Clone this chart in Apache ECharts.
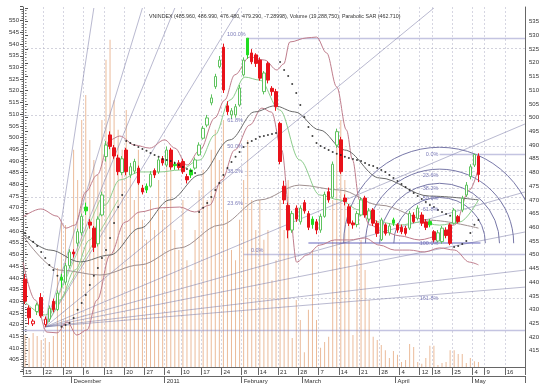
<!DOCTYPE html>
<html><head><meta charset="utf-8">
<script src="https://cdn.jsdelivr.net/npm/echarts@6/dist/echarts.min.js"></script>
<style>html,body{margin:0;padding:0;background:#fff}#c{width:557px;height:389px}</style>
</head><body><div id="c"></div>
<script>
const titleText = 'VNINDEX (485.960, 486.990, 476.480, 479.290, -7.28998), Volume (19,288,750), Parabolic SAR (462.710)';
const dates = [
'2010-11-15','2010-11-16','2010-11-17','2010-11-18','2010-11-19',
'2010-11-22','2010-11-23','2010-11-24','2010-11-25','2010-11-26',
'2010-11-29','2010-11-30','2010-12-01','2010-12-02','2010-12-03',
'2010-12-06','2010-12-07','2010-12-08','2010-12-09','2010-12-10',
'2010-12-13','2010-12-14','2010-12-15','2010-12-16','2010-12-17',
'2010-12-20','2010-12-21','2010-12-22','2010-12-23','2010-12-24',
'2010-12-27','2010-12-28','2010-12-29','2010-12-30','2010-12-31',
'2011-01-04','2011-01-05','2011-01-06','2011-01-07',
'2011-01-10','2011-01-11','2011-01-12','2011-01-13','2011-01-14',
'2011-01-17','2011-01-18','2011-01-19','2011-01-20','2011-01-21',
'2011-01-24','2011-01-25','2011-01-26','2011-01-27','2011-01-28',
'2011-02-08','2011-02-09','2011-02-10','2011-02-11',
'2011-02-14','2011-02-15','2011-02-16','2011-02-17','2011-02-18',
'2011-02-21','2011-02-22','2011-02-23','2011-02-24','2011-02-25',
'2011-02-28','2011-03-01','2011-03-02','2011-03-03','2011-03-04',
'2011-03-07','2011-03-08','2011-03-09','2011-03-10','2011-03-11',
'2011-03-14','2011-03-15','2011-03-16','2011-03-17','2011-03-18',
'2011-03-21','2011-03-22','2011-03-23','2011-03-24','2011-03-25',
'2011-03-28','2011-03-29','2011-03-30','2011-03-31','2011-04-01',
'2011-04-04','2011-04-05','2011-04-06','2011-04-07','2011-04-08',
'2011-04-12','2011-04-13','2011-04-14',
'2011-04-18','2011-04-19','2011-04-20','2011-04-21','2011-04-22',
'2011-04-25','2011-04-26','2011-04-27','2011-04-28','2011-04-29',
'2011-05-04','2011-05-05','2011-05-06',
'2011-05-09','2011-05-10','2011-05-11','2011-05-12','2011-05-13',
'2011-05-16','2011-05-17','2011-05-18','2011-05-19','2011-05-20'];
const weekStarts = [0,5,10,15,20,25,30,35,39,44,49,54,58,63,68,73,78,83,88,93,98,101,106,111,114,119];
const monthStarts = [12,35,54,69,92,111];
const monthLabels = ['December','2011','February','March','April','May'];

const opens = [441.1,430.6,424.8,429.3,434.4,424.5,426.5,433.0,430.0,441.8,
440.0,446.0,451.0,454.2,458.0,467.4,461.9,459.7,454.0,464.5,
485.8,493.7,489.0,485.3,480.0,488.2,479.1,480.5,481.6,474.3,
475.0,475.0,480.7,480.2,485.0,482.7,488.2,483.0,483.5,484.0,
478.5,480.9,481.6,486.4,492.5,497.3,505.4,511.3,518.6,525.7,
504.3,501.0,501.0,504.6,515.6,529.0,523.6,522.9,521.0,509.5,
519.8,510.7,509.5,497.9,475.0,468.0,459.0,467.0,462.0,469.0,
465.0,463.0,462.0,459.0,464.0,473.0,471.0,490.0,491.9,470.7,
467.5,461.6,461.0,464.5,470.7,463.0,466.3,461.5,455.5,460.9,
458.0,462.7,460.9,460.0,459.7,459.7,464.5,463.3,464.5,462.0,
462.1,458.4,455.0,454.8,459.0,460.9,461.5,463.9,466.3,471.8,
478.5,482.7,485.96];
const closes = [433.1,427.0,425.8,431.7,427.7,426.5,430.5,430.0,436.0,440.7,
446.0,451.0,450.3,458.4,464.0,466.0,460.8,452.7,463.0,471.8,
490.0,489.5,486.0,480.3,485.0,480.3,482.1,484.0,476.2,472.9,
473.6,479.4,479.1,484.6,483.5,488.2,482.0,482.5,481.8,480.3,
477.3,479.1,484.6,490.0,496.1,499.9,507.2,515.0,521.0,510.1,
502.2,502.5,504.0,510.8,521.0,522.9,520.4,519.8,514.4,516.3,
513.7,509.5,504.0,484.0,470.0,459.0,465.0,463.0,467.0,466.0,
460.0,461.0,459.0,464.0,472.0,470.0,483.0,494.9,480.3,469.4,
461.5,460.9,465.0,470.0,464.5,466.0,461.5,457.8,462.7,457.8,
460.5,461.5,459.0,458.4,457.8,465.1,462.1,467.0,461.5,460.0,
460.9,455.4,458.0,459.7,457.0,454.2,466.3,462.1,470.6,475.4,
482.1,486.58,479.29];
const highs = [443.0,431.5,426.5,432.5,436.0,427.5,431.5,434.0,437.0,443.0,
447.0,452.0,452.0,459.5,465.0,469.0,463.0,460.5,464.0,473.0,
491.5,495.0,490.0,486.5,486.0,489.0,483.5,485.0,482.5,475.5,
476.0,480.5,481.5,485.5,486.0,489.5,489.0,484.0,484.5,485.0,
479.5,481.5,485.5,491.0,497.0,501.0,508.5,516.0,522.5,527.0,
506.0,503.5,505.0,512.0,522.0,529.0,525.0,523.5,522.0,517.0,
520.5,511.5,510.5,498.5,477.0,469.0,466.0,468.0,468.0,470.0,
466.0,464.0,463.0,465.0,473.0,474.5,484.0,496.0,493.0,472.0,
468.5,462.5,466.0,471.0,471.5,467.0,467.0,462.5,463.5,461.5,
461.5,463.5,461.5,461.0,460.5,466.0,465.5,468.0,465.5,463.0,
463.0,459.0,459.0,460.5,460.0,461.5,467.0,464.5,471.5,476.5,
483.0,486.8,486.99];
const lows = [432.0,424.5,424.0,428.0,427.0,423.7,425.5,429.0,429.5,438.0,
439.0,445.0,449.0,453.0,457.0,464.5,459.5,451.0,453.0,464.0,
484.0,488.5,485.0,479.0,479.0,479.0,478.0,479.5,475.5,472.0,
472.5,474.5,478.0,479.5,482.5,482.0,481.0,481.0,481.0,479.5,
476.0,478.0,481.0,486.0,492.0,496.5,504.5,510.5,518.0,509.0,
501.0,499.5,500.0,504.0,515.0,521.5,519.5,518.5,513.5,508.5,
512.5,508.0,502.5,483.0,468.5,456.0,458.0,462.0,461.0,465.0,
459.0,459.5,457.5,458.0,463.5,469.0,470.5,489.0,479.5,468.0,
460.5,459.5,460.0,464.0,463.5,462.0,460.5,456.5,455.0,457.0,
457.0,460.5,458.0,457.5,457.0,459.0,461.5,462.5,460.5,459.0,
460.0,454.5,454.5,454.0,456.0,453.5,461.0,461.5,465.5,471.0,
477.5,482.0,476.48];
const volumes = [26.2,25.4,26.7,25.9,24.9,25.4,24.4,25.9,43.3,54.8,
54.3,38.4,73.5,65.8,81.1,87.5,76.0,70.9,67.1,81.1,
96.5,101.6,86.2,78.6,73.5,83.7,68.4,60.7,73.5,55.6,
50.5,60.7,53.0,65.8,58.1,73.5,70.9,53.0,47.9,60.7,
45.3,42.8,53.0,63.2,68.4,60.7,73.5,78.6,70.9,81.1,
58.1,47.9,45.3,55.6,65.8,76.0,60.7,53.0,60.7,50.5,
53.0,40.2,45.3,60.7,53.0,65.8,25.4,35.1,30.0,21.8,
32.6,47.9,30.0,22.9,24.4,25.7,60.7,78.6,81.1,65.8,
55.6,26.2,45.3,50.5,42.8,35.1,25.7,24.9,23.6,22.3,
20.3,22.1,21.1,19.3,19.8,23.9,23.1,19.3,18.8,20.3,
23.4,23.4,18.5,19.0,19.3,22.3,22.3,21.3,21.3,19.0,
20.3,19.5,19.29];
const sar = [457.9,456.5,454.7,453.2,451.0,448.8,446.3,444.4,442.3,423.7,
424.4,425.1,426.9,429.9,432.4,435.3,439.0,442.3,445.2,448.8,
451.7,456.1,461.6,467.4,471.8,491.5,490.8,490.0,489.3,488.6,
487.9,487.1,486.4,485.7,484.9,484.6,484.2,483.5,482.7,482.0,
481.3,480.5,479.8,465.6,467.1,468.9,471.1,473.6,476.2,479.1,
481.6,483.8,485.7,487.5,489.3,490.8,491.5,492.2,493.0,493.3,
493.7,494.0,494.4,520.3,517.4,515.2,512.3,509.0,504.6,500.2,
496.6,493.3,490.8,489.7,488.9,488.2,487.5,486.8,486.4,485.7,
485.3,484.9,484.6,484.2,483.5,482.7,482.4,481.6,480.9,480.2,
479.1,478.0,476.9,475.8,474.7,473.6,472.5,471.4,470.3,469.2,
468.1,467.4,466.3,465.6,464.9,464.2,452.8,453.2,453.9,455.0,
457.9,460.9,462.71];

// indicator readings: [day index, price]
const bbUpper = [[-0.5,463.8],[3.9,466.7],[7.9,464.1],[10.1,459.7],[12.3,460.8],[15.0,472.9],[17.8,479.1],[21.0,491.9],[23.4,493.3],[27.1,490.0],[30.8,488.9],[34.5,491.9],[37.0,488.9],[40.0,482.7],[43.2,488.2],[46.9,499.9],[49.3,506.4],[51.8,515.6],[55.5,522.1],[59.2,521.0],[62.2,517.4],[63.9,519.6],[65.4,527.6],[69.6,529.1],[72.0,529.4],[74.5,523.6],[77.0,511.2],[79.4,495.5],[80.9,484.6],[82.6,470.0],[85.1,460.9],[88.8,458.3],[92.5,456.9],[97.4,455.4],[102.4,456.9],[106.1,460.9],[109.8,473.6],[112.0,481.6]];
const bbLower = [[-0.5,447.3],[2.5,433.5],[5.4,421.8],[7.9,421.5],[10.4,425.5],[12.8,420.7],[15.3,422.6],[17.8,433.5],[21.0,449.9],[24.7,461.9],[28.4,465.6],[33.3,467.1],[38.2,467.4],[41.9,465.6],[45.6,468.1],[48.6,477.3],[51.8,488.2],[55.5,497.3],[58.5,503.5],[60.9,502.0],[63.4,488.2],[65.4,464.5],[67.1,447.3],[69.6,449.9],[72.8,453.5],[76.5,455.4],[80.2,455.4],[83.9,456.1],[87.6,453.5],[91.3,451.7],[95.0,451.7],[98.7,451.0],[102.4,452.5],[106.1,451.7],[109.8,447.3],[112.0,446.3]];
const maShort = [[-0.5,433.5],[5,428.0],[8.6,433.5],[12.3,444.4],[16.0,455.4],[19.7,468.1],[23.4,477.3],[28.4,480.2],[33.3,480.2],[38.2,480.9],[43.2,484.6],[46.9,493.7],[50.6,506.4],[54.3,514.8],[58.0,513.7],[62.9,502.8],[67.8,484.6],[72.8,471.8],[77.7,470.0],[82.6,466.3],[87.6,461.9],[92.5,460.8],[97.4,461.9],[102.4,460.8],[107.3,461.9],[112,470.0]];
const maMid = [[-0.5,457.5],[6.2,451.7],[13.6,447.4],[21.0,449.9],[28.4,459.7],[35.8,470.0],[43.2,479.1],[50.6,491.9],[56.7,502.1],[61.7,504.3],[66.6,502.1],[72.8,495.5],[78.9,488.2],[87.6,478.0],[99.9,471.4],[112,470.0]];
const maLong = [[-0.5,456.9],[8.6,444.4],[18.5,442.6],[28.4,446.3],[38.2,452.5],[48.1,460.8],[58,470.0],[67.8,475.4],[77.7,473.6],[87.6,468.1],[99.9,462.6],[112,459.7]];

// drawing tools: [x1, price1, x2, price2]
const fanLines = [[5,423.7,17.0,540],[5,423.7,29.0,540],[5,423.7,37.0,540],[5,423.7,53.0,540],[5,423.7,101.0,540],
  [5,423.7,123.5,497.7],[5,423.7,123.5,472.9],[5,423.7,123.5,458.3],[5,423.7,123.5,444.4],[5,423.7,123.5,438.2]];
const greenFan = [[5,423.7,18.5,470.0],[5,423.7,23.0,470.0]];
const solidLevels = [[-0.5,422.6,123.5,422.6],[55,528.9,123.5,528.9],[54,450.3,123.5,450.3],[102.4,486.7,123.5,486.7]];
const supportLine = [[70,454.2,112.5,454.2]];
const dottedLevels = [[-0.5,525.3,123.5,525.3],[-0.5,501.0,123.5,501.0],[-0.5,470.9,123.5,470.9],
  [54.3,498.9,123.5,498.9],[54.3,489.6,123.5,489.6],[54.3,480.3,123.5,480.3],[54.3,468.8,123.5,468.8],
  [54.3,479.0,123.5,479.0],[54.3,474.3,123.5,474.3],[54.3,466.6,123.5,466.6],[54.3,434.1,123.5,434.1]];
const fibLabels = [[55,530.3,'100.0%','left'],[54.3,498.9,'61.8%','left'],[54.3,489.6,'50.0%','left'],[54.3,480.3,'38.2%','left'],[54.3,468.8,'23.6%','left'],[55.3,451.6,'0.0%','right'],
  [102.6,486.7,'0.0%','left'],[102.6,479.0,'23.6%','left'],[102.6,474.3,'38.2%','left'],[102.6,470.45,'50.0%','left'],[102.6,466.6,'61.8%','left'],[102.6,454.2,'100.0%','left'],[102.6,434.1,'161.8%','left']];
// fibonacci arcs: [centre index, centre price, radius in days]
const arcs = [[102.4,454.2,23.7],[102.4,454.2,18.3],[102.4,454.2,14.8],[102.4,454.2,11.3]];

const RED='#e8121a', GREEN_FILL='#22dd22', GREEN_LINE='#5fc35f';
const candleData = opens.map((o,i)=>{
  const c=closes[i], pc=i>0?closes[i-1]:o;
  const upPrev=c>=pc, filled=c<o;
  const line=upPrev?(filled?GREEN_FILL:GREEN_LINE):RED;
  const fill=filled?line:'#ffffff';
  return {value:[o,c,lows[i],highs[i]],itemStyle:{color:fill,color0:fill,borderColor:line,borderColor0:line,borderWidth:1}};
});
const weekSet=new Set(weekStarts), monthSet=new Set(monthStarts);
const segData=(arr,style)=>arr.map(s=>({coords:[[s[0],s[1]],[s[2],s[3]]],lineStyle:style}));
const lineSeries=(data,color,width,z)=>({type:'line',xAxisIndex:1,yAxisIndex:0,data,smooth:0.35,smoothMonotone:'x',showSymbol:false,silent:true,lineStyle:{color,width},z:z||3});
const linesSeries=(arr,style,z)=>({type:'lines',coordinateSystem:'cartesian2d',xAxisIndex:1,yAxisIndex:0,silent:true,data:segData(arr,style),lineStyle:style,z:z||2});
const axisFont={fontFamily:'Liberation Sans, Arial, sans-serif',fontSize:6,color:'#333'};

const chart=echarts.init(document.getElementById('c'),null,{renderer:'canvas'});
chart.setOption({
  animation:false,
  backgroundColor:'#ffffff',
  title:{text:titleText,left:144,top:9,textStyle:{fontFamily:'Liberation Sans, Arial, sans-serif',fontSize:5.3,fontWeight:'normal',color:'#333'}},
  grid:[
    {left:23,right:32,top:8,bottom:24.6},
    {left:23,right:32,top:6.67,bottom:17.6},
    {left:23,right:32,top:7,bottom:22}
  ],
  xAxis:[
    {gridIndex:0,type:'category',data:dates,show:false,boundaryGap:true},
    {gridIndex:0,type:'value',min:-0.5,max:123.5,show:false},
    {gridIndex:1,type:'category',data:dates,show:false},
    {gridIndex:2,type:'category',data:dates,boundaryGap:true,
      axisLine:{lineStyle:{color:'#666',width:1}},
      axisTick:{show:true,interval:(i)=>weekSet.has(i),length:8,lineStyle:{color:'#666'}},
      axisLabel:Object.assign({interval:(i)=>weekSet.has(i),align:'left',margin:2,formatter:(v)=>String(+v.slice(8))},axisFont),
      splitLine:{show:true,interval:(i)=>weekSet.has(i),lineStyle:{color:'#d6d6e2',type:[2,2],width:1}}},
    {gridIndex:2,type:'category',data:dates,boundaryGap:true,position:'bottom',offset:9,
      axisLine:{lineStyle:{color:'#666',width:1}},
      axisTick:{show:true,interval:(i)=>monthSet.has(i),length:7,lineStyle:{color:'#666'}},
      axisLabel:Object.assign({interval:(i)=>monthSet.has(i),align:'left',margin:2,formatter:(v,i)=>monthLabels[monthStarts.indexOf(i)]||''},axisFont),
      splitLine:{show:false}}
  ],
  yAxis:[
    {gridIndex:0,type:'value',position:'right',min:410,max:540,interval:5,
      axisLine:{show:false},axisTick:{show:true,length:3,lineStyle:{color:'#555'}},
      minorTick:{show:true,splitNumber:5,length:1.5,lineStyle:{color:'#777'}},
      axisLabel:Object.assign({margin:4,formatter:(v)=>(v>=415&&v<=535)?String(v):''},axisFont),
      splitLine:{show:false}},
    {gridIndex:1,type:'value',position:'left',min:400,max:556,interval:5,
      axisLine:{show:false},axisTick:{show:true,length:3,lineStyle:{color:'#555'}},
      minorTick:{show:true,splitNumber:5,length:1.5,lineStyle:{color:'#777'}},
      axisLabel:Object.assign({margin:4,formatter:(v)=>(v>=405&&v<=550)?String(v):''},axisFont),
      splitLine:{show:false}},
    {gridIndex:2,type:'value',position:'left',min:18,max:110,axisLine:{show:true,lineStyle:{color:'#666'}},axisTick:{show:false},axisLabel:{show:false},splitLine:{show:false}},
    {gridIndex:2,type:'value',position:'right',min:18,max:110,axisLine:{show:true,lineStyle:{color:'#666'}},axisTick:{show:false},axisLabel:{show:false},splitLine:{show:false}}
  ],
  series:[
    {type:'bar',xAxisIndex:3,yAxisIndex:2,data:volumes,barWidth:1,itemStyle:{color:'#ebbb9a'},silent:true,z:1},
    linesSeries(dottedLevels,{color:'#a8a8bc',width:1,type:[2,2]},2),
    linesSeries(fanLines,{color:'#7474a2',width:1},2),
    linesSeries(greenFan,{color:'#55b855',width:1},2),
    linesSeries(solidLevels,{color:'#8a8ac4',width:1.3},2),
    linesSeries(supportLine,{color:'#3434a8',width:1.5},2),
    {type:'custom',xAxisIndex:1,yAxisIndex:0,clip:true,silent:true,data:arcs,z:2,
      renderItem:(params,api)=>{
        const c=api.coord([api.value(0),api.value(1)]);
        const r=api.size([api.value(2),0])[0];
        return {type:'arc',shape:{cx:c[0],cy:c[1],r:r,startAngle:Math.PI,endAngle:2*Math.PI,clockwise:true},style:{stroke:'#7878a8',fill:null,lineWidth:1}};
      }},
    lineSeries(bbUpper,'#bf7d8c',1,3),
    lineSeries(bbLower,'#bf7d8c',1,3),
    lineSeries(maMid,'#6a6a6a',1,3),
    lineSeries(maLong,'#a09090',1,3),
    lineSeries(maShort,'#8ccc8c',1,3),
    {type:'scatter',xAxisIndex:1,yAxisIndex:0,silent:true,symbolSize:0,z:6,
      data:fibLabels.map(f=>({value:[f[0],f[1]],label:{show:true,position:f[3],distance:2,formatter:f[2],fontSize:5.5,color:'#5a5aa6',fontFamily:'Liberation Sans, Arial, sans-serif'}}))},
    {type:'candlestick',xAxisIndex:0,yAxisIndex:0,data:candleData,barWidth:3,silent:true,z:5},
    {type:'scatter',xAxisIndex:0,yAxisIndex:0,data:sar,symbol:'circle',symbolSize:2,itemStyle:{color:'#111'},silent:true,z:6}
  ]
});
</script></body></html>
